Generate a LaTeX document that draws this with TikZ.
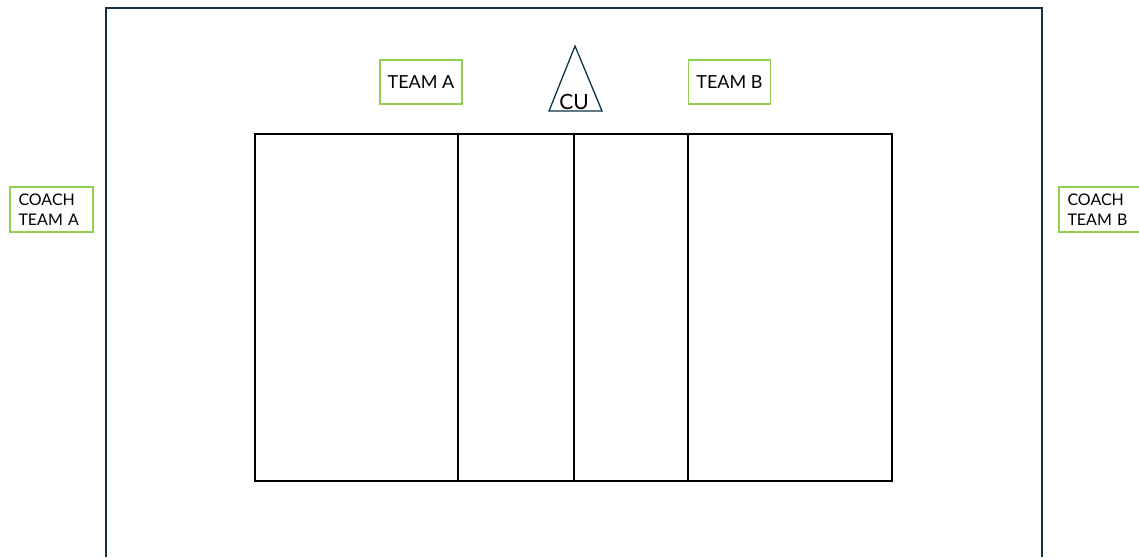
\documentclass[tikz,border=0pt]{standalone}
\usepackage{fontspec}
\setmainfont{Lato}
\usepackage{tikz}
\definecolor{frameblue}{HTML}{0E3345}
\definecolor{tagreen}{HTML}{8FD14F}
\tikzset{
  teambox/.style={draw=tagreen,line width=1.6pt,minimum width=82pt,minimum height=44pt,font=\fontsize{18}{21}\selectfont,inner sep=0pt},
  coachbox/.style={draw=tagreen,line width=1.6pt,minimum width=83pt,minimum height=45pt,text width=66pt,align=left,font=\fontsize{16}{19.5}\selectfont,inner sep=0pt}
}

\begin{document}
\begin{tikzpicture}[x=1pt,y=-1pt]
\useasboundingbox (0,0) rectangle (1139,557);
% hall
\draw[frameblue,line width=2pt] (106,557) -- (106,8) -- (1042,8) -- (1042,557);
% court
\draw[line width=1.5pt] (255,134) rectangle (892,481);
\draw[line width=1.5pt] (458,134) -- (458,481);
\draw[line width=1.5pt] (574,134) -- (574,481);
\draw[line width=1.5pt] (688,134) -- (688,481);
% referee
\draw[frameblue,line width=1.3pt,line join=miter] (575,46) -- (602,111) -- (549,111) -- cycle;
\node[font=\fontsize{21}{24}\selectfont] (cu) at (574,102) {CU};
% teams
\node[teambox] (teamA) at (421,82) {TEAM A};
\node[teambox] (teamB) at (729.5,82) {TEAM B};
\node[coachbox] (coachA) at (51.5,209.5) {COACH\\TEAM A};
\node[coachbox] (coachB) at (1100.5,209.5) {COACH\\TEAM B};
\end{tikzpicture}
\end{document}
